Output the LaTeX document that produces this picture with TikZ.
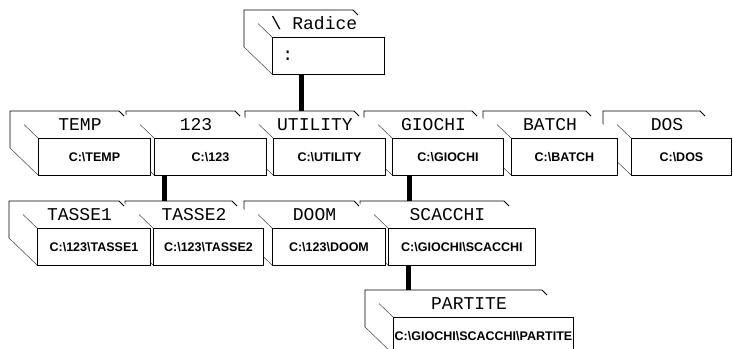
\documentclass[tikz,border=0pt]{standalone}
\usepackage{fontspec}
\setmainfont{Liberation Sans}
\setmonofont{Liberation Mono}

\newcommand{\bs}{\textbackslash}
% una cartella: nome, x, y, larghezza, titolo, percorso
\newcommand{\cartella}[6]{%
  \fill[white] (#2-28,#3-27) -- ++(#4,0) -- ++(28,27) -- ++(0,37) -- ++(-#4,0) -- ++(-28,-27) -- cycle;
  \draw[bordo] (#2-28,#3+10) -- (#2-28,#3-27) coordinate (#1-b) -- (#2-31+#4,#3-27) -- ++(5,5);
  \draw[spigolo] (#2-28,#3+10) -- (#2,#3+37);
  \draw[spigolo] (#2-14,#3-13.5) -- (#2,#3);
  \node[titolo] (#1-t) at (#2+#4/2-14,#3-13.5) {#5};
  \node[fronte, minimum width=#4pt] (#1) at (#2,#3) {#6};
}

\tikzset{
  fronte/.style={draw, fill=white, line width=0.9pt, anchor=north west, minimum height=37pt,
    inner sep=0pt, font=\bfseries\fontsize{12.5}{14}\selectfont},
  titolo/.style={inner sep=0pt, font=\ttfamily\fontsize{18}{18}\selectfont},
  bordo/.style={line width=0.9pt},
  spigolo/.style={line width=0.5pt, black!75},
  ramo/.style={line width=5pt},
}

\begin{document}
\begin{tikzpicture}[x=1pt, y=-1pt]
  \useasboundingbox (0,0) rectangle (733,348);

  % radice
  \cartella{radice}{272}{37}{112}{\bs{} Radice}{\mdseries\ttfamily\fontsize{18}{18}\selectfont\makebox[92pt][l]{:}}

  % primo livello, da destra a sinistra
  \cartella{dos}{631}{138}{100}{DOS}{C:\bs DOS}
  \cartella{batch}{511}{138}{106}{BATCH}{C:\bs BATCH}
  \cartella{giochi}{392}{138}{111}{GIOCHI}{C:\bs GIOCHI}
  \cartella{utility}{273}{138}{112}{UTILITY}{C:\bs UTILITY}
  \cartella{n123}{154}{138}{112}{123}{C:\bs 123}
  \cartella{temp}{38}{138}{112}{TEMP}{C:\bs TEMP}

  % secondo livello
  \cartella{scacchi}{388}{228}{147}{SCACCHI}{C:\bs GIOCHI\bs SCACCHI}
  \cartella{doom}{272}{228}{113}{DOOM}{C:\bs 123\bs DOOM}
  \cartella{tasse2}{153}{228}{110}{TASSE2}{C:\bs 123\bs TASSE2}
  \cartella{tasse1}{37}{228}{113}{TASSE1}{C:\bs 123\bs TASSE1}

  % terzo livello
  \cartella{partite}{393}{317}{180}{PARTITE}{C:\bs GIOCHI\bs SCACCHI\bs PARTITE}

  % rami
  \draw[ramo] (radice.south west) ++(29,0) coordinate (r0) -- (r0 |- utility-b);
  \draw[ramo] (n123.south west) ++(10,0) coordinate (r1) -- (r1 |- tasse2-b);
  \draw[ramo] (giochi.south west) ++(17,0) coordinate (r2) -- (r2 |- scacchi-b);
  \draw[ramo] (scacchi.south west) ++(20,0) coordinate (r3) -- (r3 |- partite-b);
\end{tikzpicture}
\end{document}
